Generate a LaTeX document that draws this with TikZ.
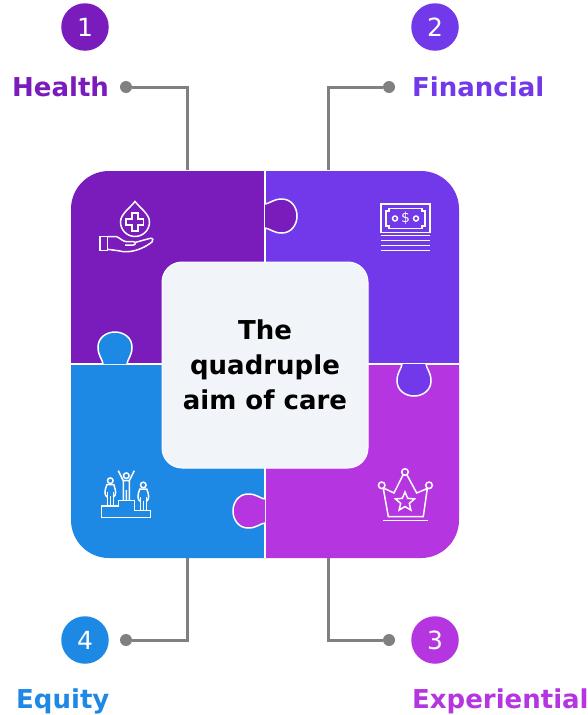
\documentclass[tikz,border=0pt]{standalone}
\usepackage{fontspec}
\setmainfont{DejaVu Sans}
\usetikzlibrary{shapes.geometric}
\definecolor{healthc}{HTML}{7A1BBC}
\definecolor{financec}{HTML}{7239EA}
\definecolor{experc}{HTML}{B535E0}
\definecolor{equityc}{HTML}{1E88E5}
\definecolor{linkc}{HTML}{808080}
\definecolor{boxc}{HTML}{F1F4F8}
\tikzset{
numdisc/.style={circle,minimum size=47.5pt,inner sep=0pt,text=white,font=\fontsize{25}{25}\selectfont},
aimlabel/.style={font=\fontsize{26}{30}\bfseries\selectfont,anchor=base west,inner sep=0pt},
linkdot/.style={circle,fill=linkc,minimum size=12pt,inner sep=0pt},
linkline/.style={draw=linkc,line width=3pt},
icon/.style={draw=white,line width=1.5pt},
tab/.pic={
\path[fill=#1,draw=white,line width=1.5pt] (0,-12) .. controls (5,-12.5) and (8,-17) .. (17,-17)
.. controls (26,-17) and (32,-9) .. (32,0) .. controls (32,9) and (26,17) .. (17,17)
.. controls (8,17) and (5,12.5) .. (0,12);
},
person/.pic={
\draw[icon] (0,-8.5) circle (2.8);
\draw[icon] (-3,16.8) -- (-3,3) (3,16.8) -- (3,3) (0,16.8) -- (0,7);
\draw[icon] (-3,8) .. controls (-6,6) and (-6,2) .. (-3.5,-4.5) -- (3.5,-4.5) .. controls (6,2) and (6,6) .. (3,8);
}
}
\begin{document}
\begin{tikzpicture}[x=1pt,y=-1pt]
\useasboundingbox (0,0) rectangle (588,715);
% quadrants
\fill[healthc] (71,364) [rounded corners=38pt] -- (71,171) [sharp corners] -- (265,171) -- (265,364) -- cycle;
\fill[financec] (265,171) [rounded corners=38pt] -- (459,171) [sharp corners] -- (459,364) -- (265,364) -- cycle;
\fill[experc] (459,364) [rounded corners=38pt] -- (459,558) [sharp corners] -- (265,558) -- (265,364) -- cycle;
\fill[equityc] (265,558) [rounded corners=38pt] -- (71,558) [sharp corners] -- (71,364) -- (265,364) -- cycle;
\draw[white,line width=1.5pt] (265,171) -- (265,558) (71,364) -- (459,364);
% tabs
\pic at (265,216) {tab=healthc};
\pic[rotate=-90] at (414,364) {tab=financec};
\pic[rotate=180] at (265,511) {tab=experc};
\pic[rotate=90] at (115,364) {tab=equityc};
% centre
\node[draw=white,line width=1pt,fill=boxc,rounded corners=20pt,minimum size=206pt,inner sep=0pt,
align=center,font=\fontsize{26}{35}\bfseries\selectfont] (aimbox) at (265,365) {The\\quadruple\\aim of care};
% numbers and labels
\node[numdisc,fill=healthc] (healthnum) at (85,27) {1};
\node[numdisc,fill=financec] (financenum) at (435,27) {2};
\node[numdisc,fill=experc] (expernum) at (435,640) {3};
\node[numdisc,fill=equityc] (equitynum) at (85,640) {4};
\node[aimlabel,text=healthc] (healthlabel) at (12,96) {Health};
\node[aimlabel,text=financec] (financelabel) at (412,96) {Financial};
\node[aimlabel,text=equityc] (equitylabel) at (16,708) {Equity};
\node[aimlabel,text=experc] (experlabel) at (412,708) {Experiential};
% connectors
\node[linkdot] (healthdot) at (126,87) {};
\node[linkdot] (financedot) at (389,87) {};
\node[linkdot] (equitydot) at (126,640) {};
\node[linkdot] (experdot) at (389,640) {};
\coordinate (healthend) at (187,170);
\coordinate (financeend) at (328,170);
\coordinate (equityend) at (187,558);
\coordinate (experend) at (328,558);
\draw[linkline] (healthdot) -| (healthend);
\draw[linkline] (financedot) -| (financeend);
\draw[linkline] (equitydot) -| (equityend);
\draw[linkline] (experdot) -| (experend);
% health icon
\draw[icon] (135,201.5) .. controls (130,208) and (120.5,214) .. (120.5,222) arc (180:360:14.5 and -14.5) .. controls (149.5,214) and (140,208) .. (135,201.5) -- cycle;
\draw[icon] (132,213) -- (138,213) -- (138,219) -- (143.5,219) -- (143.5,225) -- (138,225) -- (138,231) -- (132,231) -- (132,225) -- (126,225) -- (126,219) -- (132,219) -- cycle;
\draw[icon] (100,236.5) rectangle (107.3,250.7);
\draw[icon] (107.3,236.7) -- (116.7,236.7) .. controls (120,238) and (123,241.7) .. (126.7,241.7) -- (133.3,241.7) .. controls (136,241.7) and (136,245) .. (133.3,245) -- (125,245);
\draw[icon] (135,242.5) -- (149.5,238.5) .. controls (153,237.5) and (154,240.5) .. (152,242) .. controls (143,249) and (130,254) .. (118.3,250.7) -- (107.3,249.3);
% money icon
\draw[icon] (381,204) rectangle (430,232.5);
\draw[icon] (389,208.5) -- (422,208.5) -- (422,211) -- (425,211) -- (425,226) -- (422,226) -- (422,228.5) -- (389,228.5) -- (389,226) -- (386,226) -- (386,211) -- (389,211) -- cycle;
\draw[icon] (395,218.5) circle (2.5) (416,218.5) circle (2.5);
\node[text=white,inner sep=0pt,font=\fontsize{14}{14}\selectfont] (moneysign) at (405.5,218.5) {\$};
\foreach \y in {235.7,240.7,245.7,250.7}
\draw[icon] (381,\y) -- (430,\y);
% crown icon
\draw[icon] (405,472) circle (3.3) (381.7,485.3) circle (3.3) (429,485.3) circle (3.3);
\draw[icon] (383.3,488.5) -- (388.3,516.5) -- (423.3,516.5) -- (427.3,488.5) -- (416.7,493) -- (407,475) (403,475) -- (394,493) -- (384.5,488.5);
\draw[icon] (383.3,520.7) -- (428.3,520.7);
\node[icon,star,star points=5,star point ratio=2.2,minimum size=20pt,inner sep=0pt] (crownstar) at (405,502) {};
% podium icon
\draw[icon] (101.7,506) -- (118.3,506) -- (118.3,500.7) -- (134.3,500.7) -- (134.3,510.7) -- (150.7,510.7) -- (150.7,517.7) -- (101.7,517.7) -- cycle;
\draw[icon] (126.3,475.7) circle (2.8);
\draw[icon] (118.3,470.7) -- (123.3,480.7) -- (123.3,500.7) (134.3,470.7) -- (129.3,480.7) -- (129.3,500.7) (126.3,490) -- (126.3,500.7) (123.3,480.7) -- (129.3,480.7);
\pic at (110.3,489.2) {person};
\pic at (143.3,493.5) {person};
\end{tikzpicture}
\end{document}
